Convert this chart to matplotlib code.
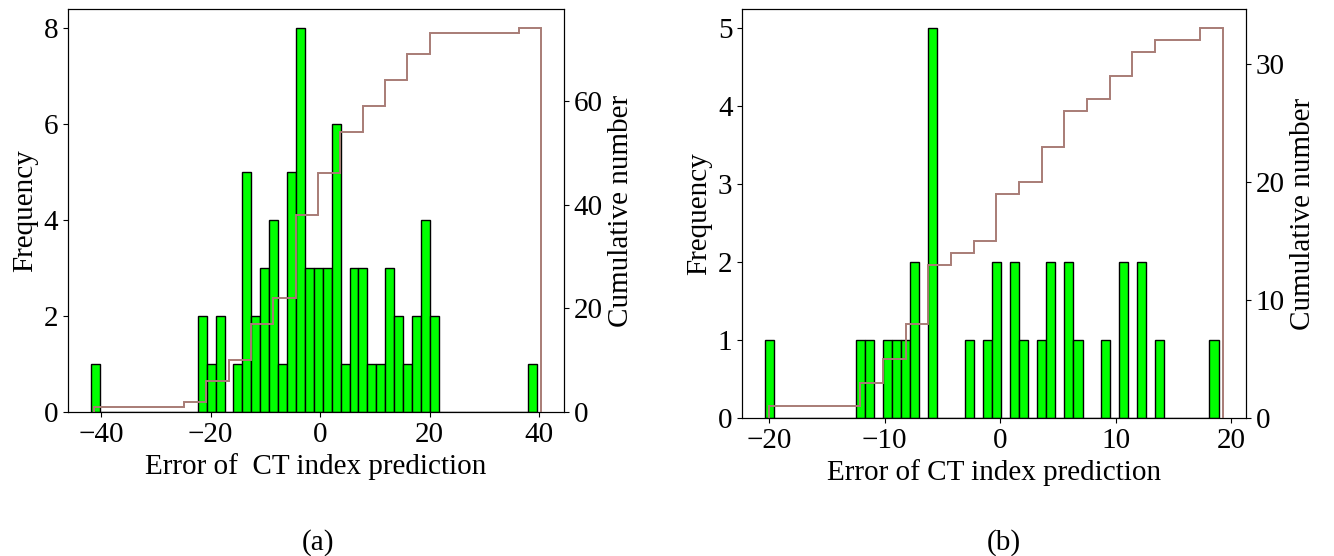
import numpy as np
import matplotlib
matplotlib.use("Agg")
import matplotlib.pyplot as plt
from matplotlib.ticker import MultipleLocator

# (a) frequency per bin (50 bins) and cumulative steps (20 bins)
counts_a = [1, 0, 0, 0, 0, 0, 0, 0, 0, 0,
            0, 0, 2, 1, 2, 0, 1, 5, 2, 3,
            4, 1, 5, 8, 3, 3, 3, 6, 1, 3,
            3, 1, 1, 3, 2, 1, 2, 4, 2, 0,
            0, 0, 0, 0, 0, 0, 0, 0, 0, 1]
range_a = (-41.9, 39.6)
cum_a = [1, 1, 1, 1, 2, 6, 10, 17, 22, 38,
         46, 54, 59, 64, 69, 73, 73, 73, 73, 74]
cum_range_a = (-41.2, 40.4)

# (b)
counts_b = [1, 0, 0, 0, 0, 0, 0, 0, 0, 0,
            1, 1, 0, 1, 1, 1, 2, 0, 5, 0,
            0, 0, 1, 0, 1, 2, 0, 2, 1, 0,
            1, 2, 0, 2, 1, 0, 0, 1, 0, 2,
            0, 2, 0, 1, 0, 0, 0, 0, 0, 1]
range_b = (-20.35, 18.9)
cum_b = [1, 1, 1, 1, 3, 5, 8, 13, 14, 15,
         19, 20, 23, 26, 27, 29, 31, 32, 32, 33]
cum_range_b = (-19.98, 19.29)

xlabels = ["Error of  CT index prediction", "Error of CT index prediction"]
captions = ["(a)", "(b)"]
cum_steps = [20, 10]

plt.rcParams['font.family'] = ['Liberation Serif', 'DejaVu Serif']
plt.rcParams['font.size'] = 21

fig = plt.figure(figsize=(13.34, 5.56), dpi=100)
ax_a = fig.add_axes([0.051, 0.259, 0.3718, 0.7248])
ax_b = fig.add_axes([0.5564, 0.2482, 0.3776, 0.7356])

panels = [(ax_a, counts_a, range_a, cum_a, cum_range_a),
          (ax_b, counts_b, range_b, cum_b, cum_range_b)]

for i, (ax, counts, rng, cum, crng) in enumerate(panels):
    edges = np.linspace(rng[0], rng[1], len(counts) + 1)
    ax.bar(edges[:-1], counts, width=np.diff(edges), align='edge',
           color='#00ff00', edgecolor='black', linewidth=1.0)
    ax.set_ylabel("Frequency")
    ax.set_xlabel(xlabels[i])

    ax2 = ax.twinx()
    cedges = np.linspace(crng[0], crng[1], len(cum) + 1)
    ax2.stairs(cum, cedges, baseline=0, color='#a87c76', linewidth=1.4)
    ax2.set_ylim(bottom=0)
    ax2.yaxis.set_major_locator(MultipleLocator(cum_steps[i]))
    ax2.set_ylabel("Cumulative number")

    ax.margins(x=0.05)
    ax.set_ylim(bottom=0)

fig.text(318 / 1334, 1 - 543 / 556, captions[0], ha='center', va='center')
fig.text(1004 / 1334, 1 - 543 / 556, captions[1], ha='center', va='center')

fig.savefig("out.png", dpi=100)
